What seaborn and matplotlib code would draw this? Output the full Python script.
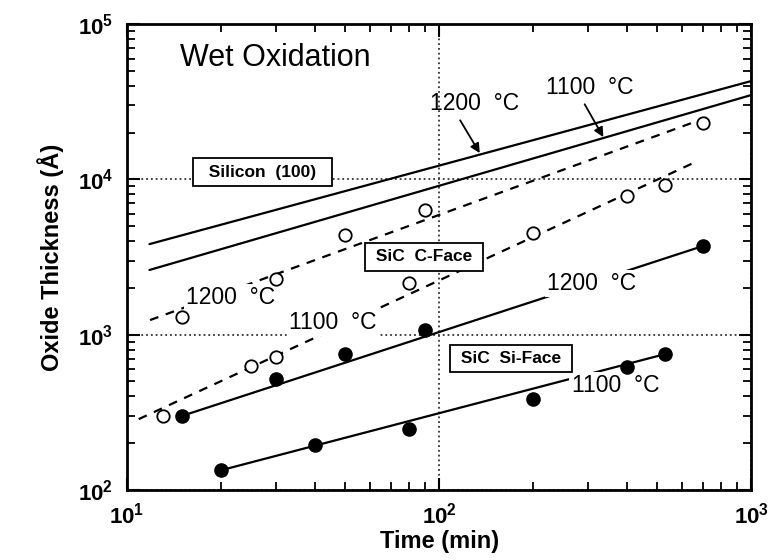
import math
import matplotlib
matplotlib.use("Agg")
import matplotlib.pyplot as plt
import matplotlib.ticker as mticker
import pandas as pd
import seaborn as sns

# measured points (time in min, thickness in Angstrom)
cface_1200_t = [15, 30, 50, 90, 700]
cface_1200_thk = [1300, 2280, 4380, 6340, 23000]
cface_1100_t = [13, 25, 30, 80, 200, 400, 530]
cface_1100_thk = [300, 630, 720, 2150, 4500, 7800, 9200]
siface_1200_t = [15, 30, 50, 90, 700]
siface_1200_thk = [300, 520, 750, 1070, 3720]
siface_1100_t = [20, 40, 80, 200, 400, 530]
siface_1100_thk = [134, 195, 247, 385, 620, 750]

# fitted lines (end points)
si_1200_t = [11.8, 1000]
si_1200_thk = [3830, 42950]
si_1100_t = [11.8, 1000]
si_1100_thk = [2610, 34900]
cface_1200_fit_t = [11.85, 728]
cface_1200_fit_thk = [1242, 25200]
cface_1100_fit_t = [10.9, 652]
cface_1100_fit_thk = [286, 12730]
siface_1200_fit_t = [15, 700]
siface_1200_fit_thk = [300, 3720]
siface_1100_fit_t = [20, 530]
siface_1100_fit_thk = [134, 750]

sns.set_theme(style="ticks")
plt.rcParams['font.family'] = ['Liberation Sans', 'DejaVu Sans']
plt.rcParams['mathtext.fontset'] = 'custom'
plt.rcParams['mathtext.rm'] = 'Liberation Sans'
plt.rcParams['mathtext.bf'] = 'Liberation Sans:bold'
plt.rcParams['text.color'] = 'black'
plt.rcParams['axes.labelcolor'] = 'black'
plt.rcParams['xtick.color'] = 'black'
plt.rcParams['ytick.color'] = 'black'

fig = plt.figure(figsize=(7.68, 5.6), dpi=100)
ax = fig.add_axes([0.1654, 0.125, 0.8126, 0.832])
ax.set_xscale('log')
ax.set_yscale('log')

# fit lines
fits = [
    (si_1200_t, si_1200_thk, '-'),
    (si_1100_t, si_1100_thk, '-'),
    (cface_1200_fit_t, cface_1200_fit_thk, '--'),
    (cface_1100_fit_t, cface_1100_fit_thk, '--'),
    (siface_1200_fit_t, siface_1200_fit_thk, '-'),
    (siface_1100_fit_t, siface_1100_fit_thk, '-'),
]
for t, thk, ls in fits:
    sns.lineplot(x=t, y=thk, ax=ax, color='black', lw=1.6, zorder=2)
    if ls == '--':
        ax.lines[-1].set_dashes([4, 3.5])

# data points
open_df = pd.DataFrame({'t': cface_1200_t + cface_1100_t,
                        'thk': cface_1200_thk + cface_1100_thk})
filled_df = pd.DataFrame({'t': siface_1200_t + siface_1100_t,
                          'thk': siface_1200_thk + siface_1100_thk})
sns.scatterplot(data=open_df, x='t', y='thk', ax=ax, marker='o', s=80,
                facecolor='white', edgecolor='black', linewidth=1.3, zorder=5)
sns.scatterplot(data=filled_df, x='t', y='thk', ax=ax, marker='o', s=90,
                color='black', edgecolor='black', linewidth=1, zorder=5)

ax.set_xlim(10, 1000)
ax.set_ylim(100, 100000)

# grid at decades only
ax.grid(True, which='major', linestyle=':', color='#333333', lw=1.3, zorder=0)
ax.grid(False, which='minor')

for s in ax.spines.values():
    s.set_linewidth(2)
    s.set_color('black')
ax.tick_params(which='both', direction='in', top=True, right=True, color='black')
ax.tick_params(which='major', length=9, width=1.5, labelsize=16)
ax.tick_params(axis='x', which='major', pad=9)
ax.tick_params(axis='y', which='major', pad=10)
ax.tick_params(which='minor', length=6, width=1.3)
fmt = mticker.FuncFormatter(lambda v, p: r'$\mathbf{10^{%d}}$' % round(math.log10(v)))
ax.xaxis.set_major_formatter(fmt)
ax.yaxis.set_major_formatter(fmt)
ax.xaxis.set_minor_formatter(mticker.NullFormatter())
ax.yaxis.set_minor_formatter(mticker.NullFormatter())

ax.set_xlabel('Time (min)', fontsize=17, fontweight='bold', labelpad=1)
ax.set_ylabel('Oxide Thickness (Å)', fontsize=17, fontweight='bold', labelpad=10)

white = dict(facecolor='white', edgecolor='none', pad=1.5)
ax.text(29.8, 60400, 'Wet Oxidation', fontsize=22, ha='center', va='center')

# boxed labels
boxed = dict(boxstyle='square,pad=0.35', facecolor='white', edgecolor='black', lw=1.3)
ax.text(27.1, 11150, '  Silicon  (100)  ', fontsize=12.5, fontweight='bold',
        ha='center', va='center', bbox=boxed, zorder=6)
ax.text(89.6, 3165, ' SiC  C-Face ', fontsize=12.5, fontweight='bold',
        ha='center', va='center', bbox=boxed, zorder=6)
ax.text(170, 706, ' SiC  Si-Face ', fontsize=12.5, fontweight='bold',
        ha='center', va='center', bbox=boxed, zorder=6)

# temperature labels
ax.text(21.5, 1745, '1200  °C', fontsize=16.5, ha='center', va='center', bbox=white, zorder=4)
ax.text(45.7, 1205, '1100  °C', fontsize=16.5, ha='center', va='center', bbox=white, zorder=4)
ax.text(309, 2149, '1200  °C', fontsize=16.5, ha='center', va='center', bbox=white, zorder=4)
ax.text(367, 473, '1100  °C', fontsize=16.5, ha='center', va='center', bbox=white, zorder=4)

arrow = dict(arrowstyle='-|>', color='black', lw=1.3, mutation_scale=14, shrinkA=2, shrinkB=0)
ax.annotate('1200  °C', xy=(135, 14760), xytext=(130, 30970), fontsize=16.5,
            ha='center', va='center', arrowprops=dict(arrow, relpos=(0.3, 0)))
ax.annotate('1100  °C', xy=(336, 18720), xytext=(305, 39300), fontsize=16.5,
            ha='center', va='center', arrowprops=dict(arrow, relpos=(0.4, 0)))

plt.savefig('out.png', dpi=100)
